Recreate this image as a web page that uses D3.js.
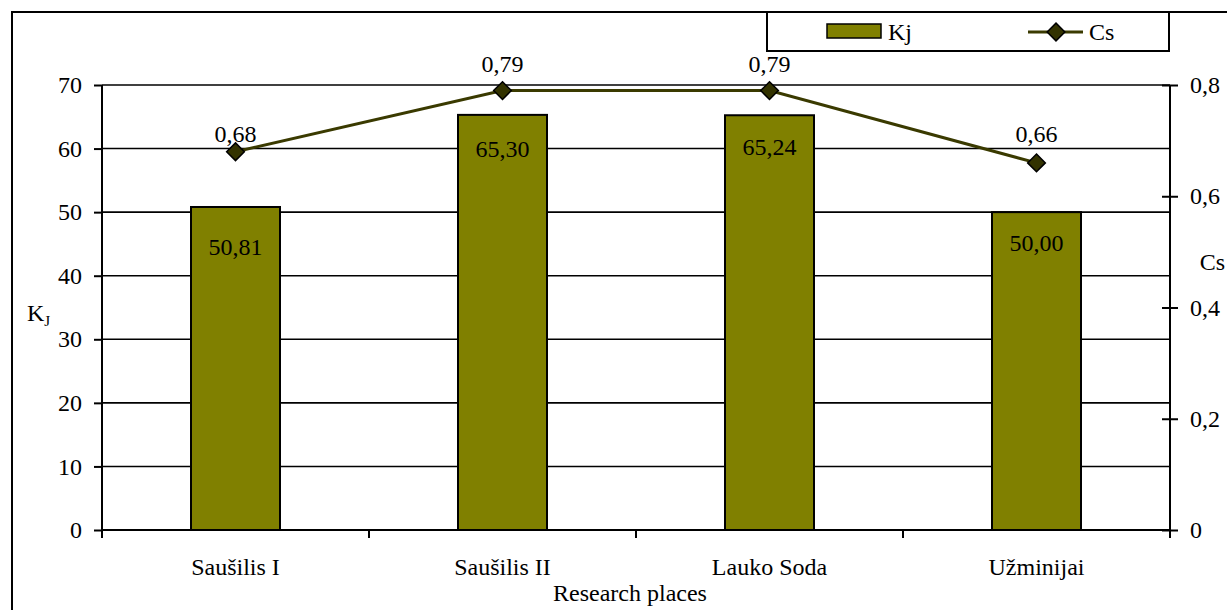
<!DOCTYPE html>
<html>
<head>
<meta charset="utf-8">
<script src="https://cdn.jsdelivr.net/npm/d3@7"></script>
<style>
  html, body { margin: 0; padding: 0; background: #fff; }
  svg { display: block; }
  svg text { font-family: "Liberation Serif", "Times New Roman", serif; fill: #000; }
</style>
</head>
<body>
<svg id="chart" width="1227" height="610"></svg>
<script>
// Research places and measured indices
const places = ["Saušilis I", "Saušilis II", "Lauko Soda", "Užminijai"];
const kjValues = [50.81, 65.30, 65.24, 50.00];
const csValues = [0.68, 0.79, 0.79, 0.66];
const kjTicks = [0, 10, 20, 30, 40, 50, 60, 70];
const csTicks = [0, 0.2, 0.4, 0.6, 0.8];

// Label placement (pixels): below bar tops, above line markers
const barLabelOffset = [48, 42, 40, 39];
const csLabelOffset = [10, 19, 19, 21];

const fmt2 = d3.format(".2f");
const comma = s => s.replace(".", ",");

const svg = d3.select("#chart");
const fontSize = 24;

const plot = { left: 102, right: 1170, top: 85, bottom: 530 };

const x = d3.scaleBand().domain(places).range([plot.left, plot.right]);
const yL = d3.scaleLinear().domain([0, 70]).range([plot.bottom, plot.top]);
const yR = d3.scaleLinear().domain([0, 0.8]).range([plot.bottom, plot.top]);
const cx = d => x(d) + x.bandwidth() / 2;

// Outer frame
svg.append("rect")
  .attr("x", 12).attr("y", 12).attr("width", 1240).attr("height", 620)
  .attr("fill", "none").attr("stroke", "#000").attr("stroke-width", 2);

// Horizontal gridlines
svg.append("g").selectAll("line").data(kjTicks.filter(d => d > 0)).join("line")
  .attr("x1", plot.left).attr("x2", plot.right)
  .attr("y1", d => yL(d)).attr("y2", d => yL(d))
  .attr("stroke", "#000").attr("stroke-width", 1.6);

// Bars
const barW = x.bandwidth() / 3;
svg.append("g").selectAll("rect").data(places).join("rect")
  .attr("x", d => cx(d) - barW / 2)
  .attr("width", barW)
  .attr("y", (d, i) => yL(kjValues[i]))
  .attr("height", (d, i) => yL(0) - yL(kjValues[i]))
  .attr("fill", "#808000").attr("stroke", "#000").attr("stroke-width", 2);

// Bar value labels
svg.append("g").selectAll("text").data(places).join("text")
  .attr("x", d => cx(d))
  .attr("y", (d, i) => yL(kjValues[i]) + barLabelOffset[i])
  .attr("text-anchor", "middle").attr("font-size", fontSize)
  .text((d, i) => comma(fmt2(kjValues[i])));

// Left axis
const axisL = svg.append("g").attr("transform", `translate(${plot.left},0)`)
  .call(d3.axisLeft(yL).tickValues(kjTicks).tickSize(8).tickPadding(12).tickFormat(d3.format("d")));
axisL.select(".domain").remove();
axisL.selectAll("line").attr("stroke", "#000").attr("stroke-width", 2);
axisL.selectAll("text").attr("font-size", fontSize);
svg.append("line").attr("x1", plot.left).attr("x2", plot.left)
  .attr("y1", plot.top).attr("y2", plot.bottom + 8)
  .attr("stroke", "#000").attr("stroke-width", 2);

// Right axis
const axisR = svg.append("g").attr("transform", `translate(${plot.right},0)`)
  .call(d3.axisRight(yR).tickValues(csTicks).tickSize(8).tickPadding(12)
    .tickFormat(d => d === 0 ? "0" : comma(d3.format(".1f")(d))));
axisR.select(".domain").remove();
axisR.selectAll("line").attr("x1", -8).attr("stroke", "#000").attr("stroke-width", 2);
axisR.selectAll("text").attr("font-size", fontSize);
svg.append("line").attr("x1", plot.right).attr("x2", plot.right)
  .attr("y1", plot.top).attr("y2", plot.bottom + 8)
  .attr("stroke", "#000").attr("stroke-width", 2);

// Bottom axis with ticks between categories
svg.append("line").attr("x1", plot.left).attr("x2", plot.right)
  .attr("y1", plot.bottom).attr("y2", plot.bottom)
  .attr("stroke", "#000").attr("stroke-width", 2);
const bounds = places.map(d => x(d)).concat([plot.right]);
svg.append("g").selectAll("line").data(bounds).join("line")
  .attr("x1", d => d).attr("x2", d => d)
  .attr("y1", plot.bottom).attr("y2", plot.bottom + 8)
  .attr("stroke", "#000").attr("stroke-width", 2);
svg.append("g").selectAll("text").data(places).join("text")
  .attr("x", d => cx(d))
  .attr("y", plot.bottom + 45)
  .attr("text-anchor", "middle").attr("font-size", fontSize)
  .text(d => d);

// Axis titles
svg.append("text").attr("x", 630).attr("y", 601)
  .attr("text-anchor", "middle").attr("font-size", fontSize).text("Research places");
const kjTitle = svg.append("text").attr("x", 27).attr("y", 321).attr("font-size", fontSize);
kjTitle.append("tspan").text("K");
kjTitle.append("tspan").attr("font-size", 15).attr("dy", 5).text("J");
svg.append("text").attr("x", 1225).attr("y", 270).attr("text-anchor", "end")
  .attr("font-size", fontSize).text("Cs");

// Cs line with diamond markers
const line = d3.line()
  .x((d, i) => cx(places[i]))
  .y(d => yR(d));
svg.append("path").datum(csValues)
  .attr("d", line).attr("fill", "none")
  .attr("stroke", "#3a3a00").attr("stroke-width", 3);

const diamond = d3.symbol().type(d3.symbolDiamond2).size(200);
svg.append("g").selectAll("path").data(csValues).join("path")
  .attr("transform", (d, i) => `translate(${cx(places[i])},${yR(d)})`)
  .attr("d", diamond)
  .attr("fill", "#333300").attr("stroke", "#000").attr("stroke-width", 1.5);

svg.append("g").selectAll("text").data(csValues).join("text")
  .attr("x", (d, i) => cx(places[i]))
  .attr("y", (d, i) => yR(d) - csLabelOffset[i])
  .attr("text-anchor", "middle").attr("font-size", fontSize)
  .text(d => comma(fmt2(d)));

// Legend
const lg = svg.append("g");
lg.append("rect").attr("x", 767).attr("y", 12).attr("width", 402).attr("height", 39)
  .attr("fill", "#fff").attr("stroke", "#000").attr("stroke-width", 2);
lg.append("rect").attr("x", 827).attr("y", 24).attr("width", 54).attr("height", 14)
  .attr("fill", "#808000").attr("stroke", "#000").attr("stroke-width", 1.5);
lg.append("text").attr("x", 888).attr("y", 40).attr("font-size", fontSize).text("Kj");
lg.append("line").attr("x1", 1028).attr("x2", 1083).attr("y1", 32).attr("y2", 32)
  .attr("stroke", "#3a3a00").attr("stroke-width", 3);
lg.append("path").attr("transform", "translate(1056,32)").attr("d", diamond)
  .attr("fill", "#333300").attr("stroke", "#000").attr("stroke-width", 1.5);
lg.append("text").attr("x", 1089).attr("y", 40).attr("font-size", fontSize).text("Cs");
</script>
</body>
</html>
